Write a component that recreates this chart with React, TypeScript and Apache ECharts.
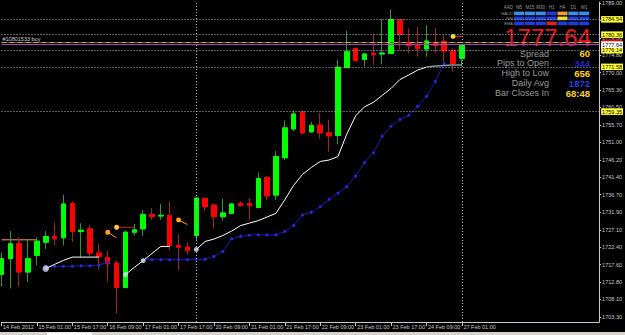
import React, { useEffect, useRef } from 'react';
import * as echarts from 'echarts';

// ---------- data ----------
const timeLabels = [
  '14 Feb 2012', '15 Feb 01:00', '15 Feb 17:00', '16 Feb 09:00', '17 Feb 01:00',
  '17 Feb 17:00', '20 Feb 09:00', '21 Feb 01:00', '21 Feb 17:00', '22 Feb 09:00',
  '23 Feb 01:00', '23 Feb 17:00', '24 Feb 09:00', '27 Feb 01:00',
];
const barsPerLabel = 4;

const priceTicks = [
  1703.3, 1708.1, 1712.8, 1717.6, 1722.4, 1727.1, 1731.9, 1736.7, 1741.4, 1746.2,
  1751.0, 1755.7, 1760.5, 1765.3, 1770.0, 1774.8, 1779.5, 1784.3, 1789.0,
];

// open, high, low, close (H4 bars)
const ohlc: number[][] = [
  [1714.96, 1720.93, 1711.52, 1719.22],
  [1719.22, 1726.71, 1711.08, 1723.29],
  [1723.29, 1725.08, 1711.52, 1715.59],
  [1715.59, 1724.46, 1712.87, 1719.22],
  [1720.12, 1725.0, 1717.4, 1723.99],
  [1723.72, 1726.71, 1721.93, 1725.27],
  [1725.27, 1729.15, 1722.83, 1724.65],
  [1724.92, 1736.66, 1722.83, 1734.14],
  [1734.3, 1734.84, 1723.72, 1726.71],
  [1726.62, 1728.88, 1719.65, 1726.98],
  [1727.36, 1728.44, 1719.84, 1720.74],
  [1720.74, 1723.29, 1716.05, 1719.84],
  [1719.49, 1721.47, 1712.87, 1717.86],
  [1718.03, 1718.76, 1704.3, 1711.36],
  [1711.36, 1726.9, 1711.08, 1726.44],
  [1726.44, 1728.71, 1725.54, 1727.09],
  [1727.36, 1732.51, 1725.54, 1731.24],
  [1731.24, 1733.05, 1729.8, 1730.69],
  [1730.88, 1734.14, 1729.8, 1731.05],
  [1730.96, 1734.84, 1721.47, 1722.83],
  [1722.83, 1726.0, 1716.05, 1722.37],
  [1722.37, 1723.72, 1720.39, 1721.47],
  [1725.54, 1735.85, 1724.0, 1735.77],
  [1735.66, 1735.85, 1732.32, 1733.41],
  [1733.87, 1733.95, 1727.52, 1730.69],
  [1730.69, 1735.49, 1729.61, 1731.7],
  [1731.59, 1734.22, 1731.51, 1734.14],
  [1734.22, 1734.84, 1733.41, 1733.76],
  [1734.22, 1735.77, 1729.88, 1733.76],
  [1733.22, 1742.71, 1732.94, 1741.08],
  [1741.35, 1741.81, 1735.22, 1736.39],
  [1736.58, 1748.59, 1735.22, 1747.05],
  [1746.78, 1757.0, 1746.07, 1754.91],
  [1754.64, 1759.71, 1754.02, 1758.71],
  [1759.25, 1759.44, 1753.12, 1753.56],
  [1753.83, 1756.54, 1753.7, 1755.56],
  [1755.65, 1758.98, 1752.04, 1753.56],
  [1753.56, 1757.19, 1748.4, 1752.74],
  [1752.85, 1773.46, 1750.41, 1771.46],
  [1771.38, 1781.33, 1771.19, 1775.72],
  [1776.61, 1776.8, 1773.0, 1773.27],
  [1773.63, 1775.17, 1771.65, 1775.09],
  [1775.26, 1780.52, 1772.11, 1774.9],
  [1775.09, 1784.58, 1772.27, 1775.36],
  [1775.26, 1787.3, 1775.0, 1784.48],
  [1784.31, 1784.67, 1776.18, 1780.41],
  [1778.24, 1782.04, 1775.26, 1777.34],
  [1777.53, 1782.5, 1774.36, 1776.61],
  [1776.45, 1782.96, 1774.36, 1778.62],
  [1778.24, 1782.23, 1775.26, 1777.34],
  [1778.43, 1780.41, 1773.0, 1775.91],
  [1775.91, 1776.61, 1770.29, 1772.46],
  [1773.9, 1777.7, 1771.92, 1777.64],
];

const whiteLine: (number | null)[] = [
  null, null, null, null, null,
  1716.51, 1717.67, 1718.76, 1719.65, 1719.65, 1719.65, 1719.65,
  null, null,
  1714.88, 1716.86, 1718.68, 1720.66, 1722.56, 1722.56,
  null, null,
  1721.74, 1723.91, 1724.59, 1725.54, 1726.76, 1728.25, 1728.93, 1729.61, 1730.61, 1731.59,
  1735.3, 1739.24, 1742.22, 1744.12, 1745.75, 1746.15, 1747.1, 1753.2, 1758.22, 1760.66,
  1761.88, 1763.78, 1765.68, 1768.12, 1769.34, 1770.7, 1771.51, 1771.78, 1771.92, 1772.06,
  1772.11,
];
const whiteTailFrom = 48;
const circleBars = [5, 14, 16, 22];

const blueLine: (number | null)[] = [
  null, null, null, null, null,
  1717.13, 1717.13, 1717.13, 1717.13, 1717.27, 1717.27, 1717.4, 1718.3,
  null, null, null,
  1718.95, 1718.95, 1718.95, 1718.95, 1718.95, 1718.95, 1719.03, 1719.03, 1719.84, 1721.2,
  1724.65, 1725.27, 1725.62, 1725.73, 1725.73, 1725.73, 1726.62, 1728.25, 1731.15, 1731.86,
  1733.41, 1735.39, 1737.12, 1738.83, 1741.81, 1745.42, 1748.13, 1752.66, 1755.37, 1757.19,
  1758.36, 1760.8, 1763.51, 1767.58, 1772.5,
];

const orangeLevel = [[0, 1724.37], [4, 1724.37]];
const stopOrangeA = [[12, 1726.44], [13, 1724.92]];
const stopOrangeB = [[20, 1729.8], [21, 1728.52]];
const stopYellowA = [[13, 1727.79], [15, 1727.79]];
const stopYellowB = [[51, 1779.87], [52, 1779.87]];

const levelPrices = [1784.54, 1780.36, 1776.14, 1771.58, 1759.35];
const orderPrice = 1778.16;
const orderText = '#10801533 buy';
const bidPrice = 1777.64;
const separatorBars = [22, 52];

const statNames = ['Spread', 'Pips to Open', 'High to Low', 'Daily Avg', 'Bar Closes In'];
const statValues = ['60', '344', '656', '1872', '68:48'];

const timeframes = ['M5', 'M15', 'M30', 'H1', 'H4', 'D1', 'W1'];
const signalRows = ['MACD', 'RSI', 'EMA'];
const signalStates = [
  ['up', 'up', 'up', 'dn', 'warn', 'up', 'up'],
  ['dn', 'dn', 'dn', 'dn', 'hot', 'dn', 'dn'],
  ['dn', 'dn', 'dn', 'sell', 'dn', 'dn', 'dn'],
];

// ---------- styles ----------
const FONT = 'Liberation Sans';
const AXIS_COLOR = '#c8c8c8';
const stateColor: Record<string, string> = {
  up: '#3c8fe8', dn: '#1f3cd8', warn: '#f0a030', hot: '#f2e22a', sell: '#e02424',
};
const statColors = ['#ffd21e', '#2323c8', '#ffd21e', '#2341e0', '#ffd21e'];

function buildOption() {
  const wickData = ohlc.map(([o, h, l, c], i) => [i, o, c, l, h]);
  const bodyData = ohlc.map(([o, , , c], i) => [i, o, c, Math.min(o, c), Math.max(o, c)]);
  const toPts = (arr: (number | null)[]) => arr.map((v, i) => [i, v]);
  const whiteMain = whiteLine.map((v, i) => [i, i <= whiteTailFrom ? v : null]);
  const whiteTail = whiteLine.map((v, i) => [i, i >= whiteTailFrom ? v : null]);
  const labelBars = timeLabels.map((_, k) => k * barsPerLabel);

  const dotted = { color: '#b8b8b8', type: [1, 2], width: 1 };
  const endLabel = (bg: string, fg: string) => ({
    show: true, position: 'end', distance: 2, fontSize: 5.5, fontFamily: FONT,
    backgroundColor: bg, color: fg, padding: [0.5, 1, 0, 1], lineHeight: 6,
  });

  const stopSeries = (data: number[][], dot: string, line: string) => ({
    type: 'line', data: data.map((p, k) => ({
      value: p, symbol: k === 0 ? 'circle' : 'none', symbolSize: 5,
      itemStyle: { color: dot },
    })),
    lineStyle: { color: line, width: 1 }, silent: true, z: 6,
  });

  const graphics: any[] = [];
  // signal dashboard
  const cellX0 = 514, cellW = 10.86, rowY0 = 11.6, rowH = 5;
  graphics.push({ type: 'text', x: 513, y: 7, style: { text: 'AAD', fill: '#9a9a9a', fontSize: 4.5, fontFamily: FONT, textAlign: 'right', align: 'right', textVerticalAlign: 'middle', verticalAlign: 'middle' } });
  timeframes.forEach((tf, k) => {
    graphics.push({ type: 'text', x: cellX0 + k * cellW + 5, y: 7, style: { text: tf, fill: '#9a9a9a', fontSize: 4.5, fontFamily: FONT, textAlign: 'center', align: 'center', textVerticalAlign: 'middle', verticalAlign: 'middle' } });
  });
  signalRows.forEach((row, r) => {
    graphics.push({ type: 'text', x: 513, y: rowY0 + r * rowH + 1.8, style: { text: row, fill: '#9a9a9a', fontSize: 4, fontFamily: FONT, textAlign: 'right', align: 'right', textVerticalAlign: 'middle', verticalAlign: 'middle' } });
    signalStates[r].forEach((s, k) => {
      graphics.push({ type: 'rect', shape: { x: cellX0 + k * cellW, y: rowY0 + r * rowH, width: cellW - 0.8, height: 3.6 }, style: { fill: stateColor[s] } });
    });
  });
  // big price
  graphics.push({ type: 'text', x: 591, y: 37.5, style: { text: bidPrice.toFixed(2), fill: '#e81c1c', fontSize: 24, fontFamily: FONT, textAlign: 'right', align: 'right', textVerticalAlign: 'middle', verticalAlign: 'middle' } });
  // stats
  statNames.forEach((name, k) => {
    const y = 53.6 + k * 9.85;
    graphics.push({ type: 'text', x: 549, y, style: { text: name, fill: '#9a9a9a', fontSize: 9, fontFamily: FONT, textAlign: 'right', align: 'right', textVerticalAlign: 'middle', verticalAlign: 'middle' } });
    graphics.push({ type: 'text', x: 590, y, style: { text: statValues[k], fill: statColors[k], fontSize: 9.5, fontWeight: 'bold', fontFamily: FONT, textAlign: 'right', align: 'right', textVerticalAlign: 'middle', verticalAlign: 'middle' } });
  });
  // bottom tab strip
  graphics.push({ type: 'rect', shape: { x: 0, y: 332, width: 625, height: 3 }, style: { fill: '#d6d3ce' } });
  graphics.push({ type: 'rect', shape: { x: 47, y: 332.5, width: 45, height: 2.5 }, style: { fill: '#ffffff' } });

  return {
    animation: false,
    backgroundColor: '#000000',
    grid: { left: 0, top: 0, right: 24, bottom: 13, containLabel: false },
    xAxis: {
      type: 'value', min: 0, max: 67.5,
      splitLine: { show: false },
      axisLine: { show: true, onZero: false, lineStyle: { color: AXIS_COLOR } },
      axisTick: { show: true, customValues: labelBars, length: 4, lineStyle: { color: AXIS_COLOR } },
      axisLabel: {
        customValues: labelBars, align: 'left', margin: 1.5, padding: [0, 0, 0, 1.5],
        fontSize: 5.5, fontFamily: FONT, color: AXIS_COLOR,
        formatter: (v: number) => timeLabels[Math.round(v / barsPerLabel)] ?? '',
      },
    },
    yAxis: {
      type: 'value', position: 'right', min: 1701.94, max: 1789.28,
      splitLine: { show: false },
      axisLine: { show: true, onZero: false, lineStyle: { color: AXIS_COLOR } },
      axisTick: { show: true, customValues: priceTicks, length: 2, lineStyle: { color: AXIS_COLOR } },
      axisLabel: {
        customValues: priceTicks, margin: 3, fontSize: 5.5, fontFamily: FONT, color: AXIS_COLOR,
        formatter: (v: number) => v.toFixed(2),
      },
    },
    series: [
      {
        type: 'line', data: orangeLevel, symbol: 'none', silent: true, z: 1,
        lineStyle: { color: '#ff9f3c', width: 1 },
      },
      {
        type: 'candlestick', data: wickData, encode: { x: 0, y: [1, 2, 3, 4] }, barWidth: 5, silent: true, z: 2,
        itemStyle: { color: '#00ff00', color0: '#ff0000', borderColor: '#2f9a2f', borderColor0: '#a52323', borderWidth: 1 },
      },
      {
        type: 'candlestick', data: bodyData, encode: { x: 0, y: [1, 2, 3, 4] }, barWidth: 5, silent: true, z: 3,
        itemStyle: { color: '#00ff00', color0: '#ff0000', borderColor: '#00ff00', borderColor0: '#ff0000', borderWidth: 1 },
        markLine: {
          silent: true, symbol: ['none', 'none'], animation: false,
          data: [
            ...levelPrices.map((p) => ({ yAxis: p, lineStyle: dotted, label: { ...endLabel('#ffff33', '#000000'), formatter: p.toFixed(2) } })),
            { yAxis: orderPrice, lineStyle: { color: '#a52a2a', type: 'solid', width: 1 }, label: { ...endLabel('#d41414', '#d41414'), formatter: ' ', width: 19, height: 6 } },
            { yAxis: orderPrice, lineStyle: { color: '#c4a474', type: [5, 3], width: 1 }, label: { show: true, position: 'insideStartTop', distance: 1, formatter: orderText, fontSize: 5.5, fontFamily: FONT, color: '#d0d0d0' } },
            { yAxis: bidPrice, lineStyle: { color: '#9a4cb4', type: 'solid', width: 1 }, label: { ...endLabel('#ffffff', '#000000'), formatter: bidPrice.toFixed(2) } },
            ...separatorBars.map((b) => ({ xAxis: b, lineStyle: dotted, label: { show: false } })),
          ],
        },
      },
      {
        type: 'line', data: toPts(blueLine), connectNulls: false, symbol: 'circle', symbolSize: 3, showSymbol: true,
        silent: true, z: 4, lineStyle: { color: '#1a1ab4', width: 1 }, itemStyle: { color: '#2a2ae6' },
      },
      {
        type: 'line', data: whiteMain, connectNulls: false, symbol: 'none', silent: true, z: 5,
        lineStyle: { color: '#ffffff', width: 1 },
      },
      {
        type: 'line', data: whiteTail, connectNulls: false, symbol: 'none', silent: true, z: 5,
        lineStyle: { color: '#8797a8', width: 1.5 },
      },
      {
        type: 'scatter', data: circleBars.map((b) => [b, whiteLine[b]]), symbolSize: (_: any, p: any) => (p.dataIndex === 0 ? 6.5 : 5),
        silent: true, z: 6, itemStyle: { color: '#cfe6f6' },
      },
      stopSeries(stopOrangeA, '#ffa21e', '#ffa21e'),
      stopSeries(stopOrangeB, '#ffa21e', '#ffa21e'),
      stopSeries(stopYellowA, '#ffc83c', '#d82020'),
      stopSeries(stopYellowB, '#ffd23c', '#d82020'),
    ],
    graphic: { elements: graphics },
  };
}

export default function App() {
  const ref = useRef<HTMLDivElement>(null);
  useEffect(() => {
    if (!ref.current) return;
    const chart = echarts.init(ref.current, null, { renderer: 'svg' });
    chart.setOption(buildOption() as any);
    return () => chart.dispose();
  }, []);
  return (
    <div
      ref={ref}
      style={{ position: 'fixed', left: 0, top: 0, width: 625, height: 335, background: '#000' }}
    />
  );
}
